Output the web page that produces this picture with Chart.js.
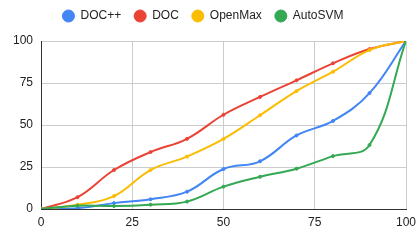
<!DOCTYPE html>
<html>
<head>
<meta charset="utf-8">
<script src="https://cdn.jsdelivr.net/npm/chart.js@4/dist/chart.umd.min.js"></script>
<style>
  html, body { margin: 0; padding: 0; background: #fff; }
  #wrap { width: 420px; height: 242px; }
</style>
</head>
<body>
<div id="wrap"><canvas id="chart" width="420" height="242"></canvas></div>
<script>
// values
const xValues = [0, 10, 20, 30, 40, 50, 60, 70, 80, 90, 100];
const docPlusPlus = [0, 0.5, 3.5, 5.8, 10.3, 23.8, 28.4, 43.8, 52.4, 69.0, 100];
const doc = [0, 7.0, 23.2, 33.9, 41.8, 56.1, 66.7, 76.6, 86.7, 95.2, 100];
const openMax = [0, 2.5, 7.7, 23.2, 31.2, 41.7, 55.8, 70.2, 81.7, 94.6, 100];
const autoSvm = [0, 2.0, 1.8, 2.6, 4.4, 13.3, 19.2, 24.0, 31.5, 38.1, 100];
const seriesNames = ['DOC++', 'DOC', 'OpenMax', 'AutoSVM'];
const seriesColors = ['#4285F4', '#EA4335', '#FBBC04', '#34A853'];

const allSeries = [docPlusPlus, doc, openMax, autoSvm];

function toPoints(values) {
  return xValues.map((x, i) => ({ x: x, y: values[i] }));
}

const datasets = allSeries.map((values, i) => ({
  label: seriesNames[i],
  data: toPoints(values),
  borderColor: seriesColors[i],
  backgroundColor: seriesColors[i],
  borderWidth: 2,
  pointRadius: 1.5,
  pointBorderWidth: 1,
  pointHoverRadius: 3,
  tension: 0.4,
  order: allSeries.length - i // later series drawn on top
}));

// keep the legend box a fixed height so the plot starts at the right place
const legendHeight = {
  id: 'legendHeight',
  beforeInit(chart) {
    const fit = chart.legend.fit;
    chart.legend.fit = function () {
      fit.call(this);
      this.height = 44;
    };
  }
};

Chart.defaults.font.family = '"Liberation Sans", Arial, sans-serif';
Chart.defaults.font.size = 12;
Chart.defaults.color = '#222';

const ctx = document.getElementById('chart').getContext('2d');
new Chart(ctx, {
  type: 'line',
  data: { datasets: datasets },
  options: {
    responsive: false,
    animation: false,
    layout: { padding: { top: -3, right: 14, left: 0, bottom: 0 } },
    plugins: {
      legend: {
        position: 'top',
        labels: {
          usePointStyle: true,
          pointStyle: 'circle',
          boxWidth: 18,
          boxHeight: 8.5,
          padding: 13,
          color: '#222',
          sort: (a, b) => a.datasetIndex - b.datasetIndex
        }
      },
      tooltip: { enabled: false }
    },
    scales: {
      x: {
        type: 'linear',
        min: 0,
        max: 100,
        ticks: { stepSize: 25, padding: 6, color: '#222' },
        grid: { color: '#cccccc', drawTicks: false },
        border: { color: '#333333', width: 1 },
        afterFit(scale) {
          scale.height = 33;
          scale.paddingLeft = 0;
          scale.paddingRight = 0;
        }
      },
      y: {
        min: 0,
        max: 100,
        ticks: { stepSize: 25, padding: 8, color: '#222' },
        grid: { color: '#cccccc', drawTicks: false },
        border: { color: '#333333', width: 1 },
        afterFit(scale) {
          scale.width = 41;
          scale.paddingTop = 0;
          scale.paddingBottom = 0;
        }
      }
    }
  },
  plugins: [legendHeight]
});
</script>
</body>
</html>
